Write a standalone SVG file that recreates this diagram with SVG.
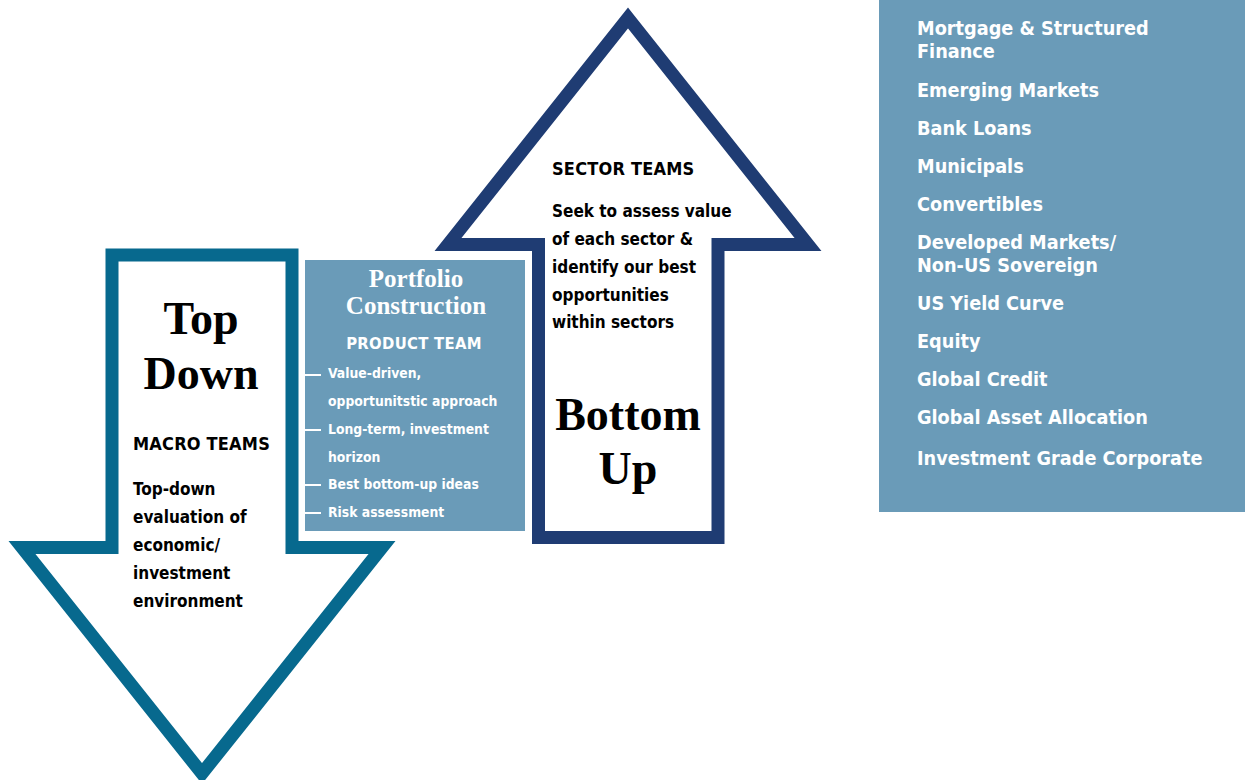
<svg xmlns="http://www.w3.org/2000/svg" width="1245" height="780" viewBox="0 0 1245 780">
<style>
.arrow{fill:#ffffff;stroke-width:13;stroke-linejoin:miter;stroke-miterlimit:10}
.down{stroke:#07698e}
.up{stroke:#1f3c73}
.panel{fill:#6a9bb8}
.big{font-family:"Liberation Serif","Times New Roman",serif;font-weight:bold;font-size:46px;fill:#000;text-anchor:middle}
.sans{font-family:"DejaVu Sans Condensed","DejaVu Sans",sans-serif;font-weight:bold}
.head{font-size:18px;fill:#000;letter-spacing:0.2px}
.body{font-size:17px;fill:#000}
.pc{font-family:"Liberation Serif","Times New Roman",serif;font-weight:bold;font-size:25px;fill:#fff;text-anchor:middle}
.pt{font-size:16.5px;fill:#fff;text-anchor:middle;letter-spacing:0.3px}
.bul{font-size:13.8px;fill:#fff}
.item{font-size:19.7px;fill:#fff}
.dash{stroke:#fff;stroke-width:2}
</style>
<rect width="1245" height="780" fill="#ffffff"/>
<g id="top-down">
<polygon class="arrow down" points="112,255 292,255 292,547.5 382,547.5 202,773.5 22,547.5 112,547.5"/>
<text class="big" x="201" y="334">Top</text>
<text class="big" x="201" y="389">Down</text>
<text class="sans head" x="133" y="450">MACRO TEAMS</text>
<text class="sans body" x="133" y="495">Top-down</text>
<text class="sans body" x="133" y="523">evaluation of</text>
<text class="sans body" x="133" y="551">economic/</text>
<text class="sans body" x="133" y="579">investment</text>
<text class="sans body" x="133" y="607">environment</text>
</g>
<g id="bottom-up">
<polygon class="arrow up" points="628,18 808,244.5 718,244.5 718,537.5 538.5,537.5 538.5,244.5 448,244.5"/>
<text class="sans head" x="552" y="175">SECTOR TEAMS</text>
<text class="sans body" x="552" y="217">Seek to assess value</text>
<text class="sans body" x="552" y="245">of each sector &amp;</text>
<text class="sans body" x="552" y="273">identify our best</text>
<text class="sans body" x="552" y="301">opportunities</text>
<text class="sans body" x="552" y="328">within sectors</text>
<text class="big" x="628" y="430">Bottom</text>
<text class="big" x="628" y="484">Up</text>
</g>
<g id="portfolio-construction">
<rect class="panel" x="305" y="260" width="220" height="271"/>
<text class="pc" x="416" y="287">Portfolio</text>
<text class="pc" x="416" y="314">Construction</text>
<text class="sans pt" x="414" y="349">PRODUCT TEAM</text>
<line class="dash" x1="305" y1="375" x2="321" y2="375"/>
<line class="dash" x1="305" y1="430" x2="321" y2="430"/>
<line class="dash" x1="305" y1="485" x2="321" y2="485"/>
<line class="dash" x1="305" y1="513" x2="321" y2="513"/>
<text class="sans bul" x="328" y="378">Value-driven,</text>
<text class="sans bul" x="328" y="406">opportunitstic approach</text>
<text class="sans bul" x="328" y="434">Long-term, investment</text>
<text class="sans bul" x="328" y="462">horizon</text>
<text class="sans bul" x="328" y="489">Best bottom-up ideas</text>
<text class="sans bul" x="328" y="517">Risk assessment</text>
</g>
<g id="sector-list">
<rect class="panel" x="879" y="0" width="366" height="512"/>
<text class="sans item" x="917" y="35">Mortgage &amp; Structured</text>
<text class="sans item" x="917" y="58">Finance</text>
<text class="sans item" x="917" y="97">Emerging Markets</text>
<text class="sans item" x="917" y="135">Bank Loans</text>
<text class="sans item" x="917" y="173">Municipals</text>
<text class="sans item" x="917" y="211">Convertibles</text>
<text class="sans item" x="917" y="249">Developed Markets/</text>
<text class="sans item" x="917" y="272">Non-US Sovereign</text>
<text class="sans item" x="917" y="310">US Yield Curve</text>
<text class="sans item" x="917" y="348">Equity</text>
<text class="sans item" x="917" y="386">Global Credit</text>
<text class="sans item" x="917" y="424">Global Asset Allocation</text>
<text class="sans item" x="917" y="465">Investment Grade Corporate</text>
</g>
<g id="connectors"></g>
</svg>
